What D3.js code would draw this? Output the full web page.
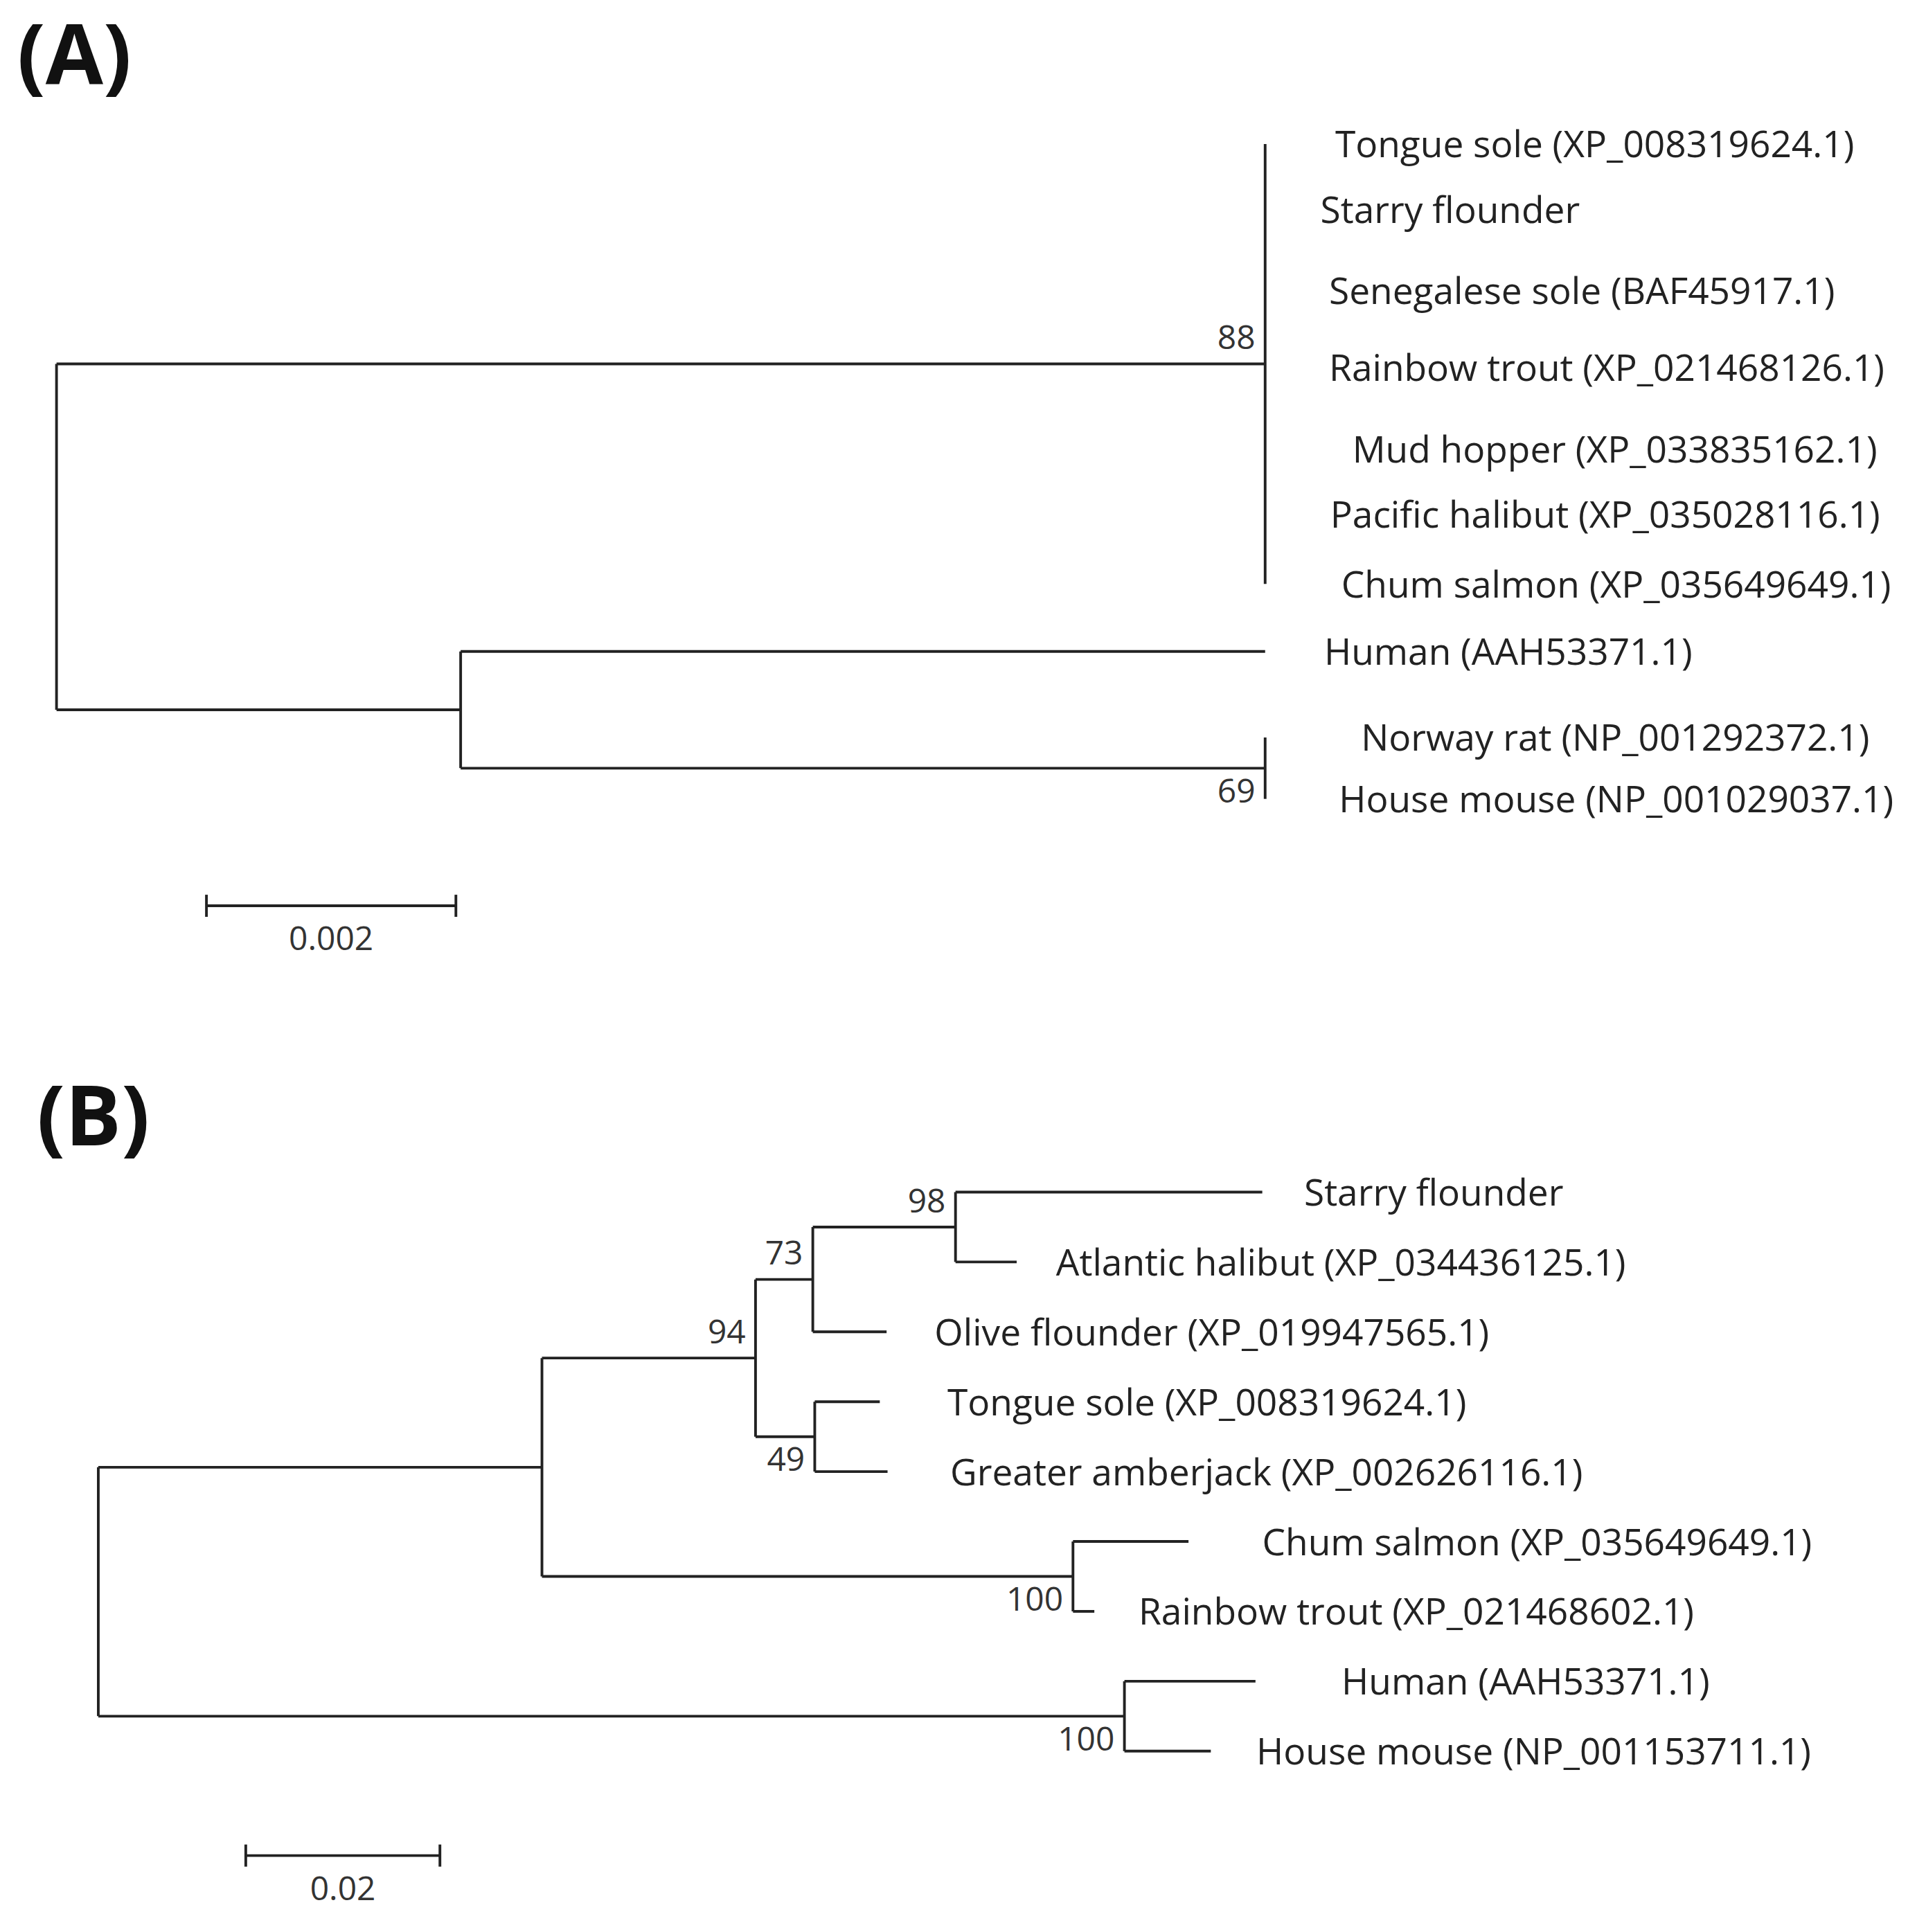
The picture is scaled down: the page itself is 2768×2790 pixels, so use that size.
<!DOCTYPE html>
<html>
<head>
<meta charset="utf-8">
<script src="https://cdn.jsdelivr.net/npm/d3@7"></script>
<style>
  body { margin: 0; background: #fff; }
  text { font-family: "Open Sans", sans-serif; }
</style>
</head>
<body>
<svg id="chart"></svg>
<script>
// tree A: branch lengths (substitutions/site), bootstrap, leaves
const treeA = {len: 0, children: [
  {len: 0.00969, boot: '88', bootPos: 'above', children: [
    {name: 'Tongue sole (XP_008319624.1)', len: 0},
    {name: 'Starry flounder', len: 0},
    {name: 'Senegalese sole (BAF45917.1)', len: 0},
    {name: 'Rainbow trout (XP_021468126.1)', len: 0},
    {name: 'Mud hopper (XP_033835162.1)', len: 0},
    {name: 'Pacific halibut (XP_035028116.1)', len: 0},
    {name: 'Chum salmon (XP_035649649.1)', len: 0}
  ]},
  {len: 0.00324, children: [
    {name: 'Human (AAH53371.1)', len: 0.00645},
    {len: 0.00645, boot: '69', bootPos: 'below', children: [
      {name: 'Norway rat (NP_001292372.1)', len: 0},
      {name: 'House mouse (NP_001029037.1)', len: 0}
    ]}
  ]}
]}
const labelGapA = [57, 45, 52, 52, 71, 53, 62, 48, 78, 60]

const treeB = {len: 0, children: [
  {len: 0.0457, children: [
    {len: 0.0220, boot: '94', bootPos: 'above', children: [
      {len: 0.0059, boot: '73', bootPos: 'above', children: [
        {len: 0.0147, boot: '98', bootPos: 'above', children: [
          {name: 'Starry flounder', len: 0.0316},
          {name: 'Atlantic halibut (XP_034436125.1)', len: 0.0063}
        ]},
        {name: 'Olive flounder (XP_019947565.1)', len: 0.0076}
      ]},
      {len: 0.0061, boot: '49', bootPos: 'below', children: [
        {name: 'Tongue sole (XP_008319624.1)', len: 0.0067},
        {name: 'Greater amberjack (XP_002626116.1)', len: 0.0075}
      ]}
    ]},
    {len: 0.0547, boot: '100', bootPos: 'below', children: [
      {name: 'Chum salmon (XP_035649649.1)', len: 0.0119},
      {name: 'Rainbow trout (XP_021468602.1)', len: 0.0022}
    ]}
  ]},
  {len: 0.1057, boot: '100', bootPos: 'below', children: [
    {name: 'Human (AAH53371.1)', len: 0.0135},
    {name: 'House mouse (NP_001153711.1)', len: 0.0089}
  ]}
]}
const labelGapB = [34, 32, 39, 55, 51, 60, 36, 70, 37]

const leafYA = [117, 170, 236, 299, 365, 418, 475, 530, 600, 650]

const panels = [
  {tag: '(A)', tagX: 14, tagY: 68, tree: treeA, gaps: labelGapA, x0: 46, pxPerUnit: 101500,
   fixedY: leafYA, scale: 0.002, scaleLabel: '0.002', scaleX: 168, scaleY: 737},
  {tag: '(B)', tagX: 30, tagY: 932, tree: treeB, gaps: labelGapB, x0: 80, pxPerUnit: 7900,
   leafY: [970, 1425], scale: 0.02, scaleLabel: '0.02', scaleX: 200, scaleY: 1510}
]

const W = 2768, H = 2790
const svg = d3.select('#chart').attr('width', W).attr('height', H)
  .attr('viewBox', '0 0 1560 1572')
const g = svg.append('g')

panels.forEach(p => {
  const root = d3.hierarchy(p.tree)
  const x = d3.scaleLinear().domain([0, 1]).range([p.x0, p.x0 + p.pxPerUnit])
  root.eachBefore(d => { d.dist = (d.parent ? d.parent.dist : 0) + d.data.len })
  const leaves = root.leaves()
  if (p.fixedY) {
    leaves.forEach((d, i) => { d.yy = p.fixedY[i] })
  } else {
    const y = d3.scaleLinear().domain([0, leaves.length - 1]).range(p.leafY)
    leaves.forEach((d, i) => { d.yy = y(i) })
  }
  root.eachAfter(d => {
    if (d.children) d.yy = d3.mean([d.children[0].yy, d.children[d.children.length - 1].yy])
  })

  const line = (x1, y1, x2, y2) => g.append('line')
    .attr('x1', x1).attr('y1', y1).attr('x2', x2).attr('y2', y2)
    .attr('stroke', '#222').attr('stroke-width', 2.2)

  root.descendants().forEach(d => {
    if (d.parent) line(x(d.parent.dist), d.yy, x(d.dist), d.yy)
    if (d.children) {
      const ys = d.children.map(c => c.yy)
      line(x(d.dist), d3.min(ys), x(d.dist), d3.max(ys))
      if (d.data.boot) {
        g.append('text').attr('x', x(d.dist) - 8)
          .attr('y', d.data.bootPos === 'above' ? d.yy - 12 : d.yy + 28)
          .attr('text-anchor', 'end').attr('font-size', 27)
          .attr('font-family', '"Liberation Sans Narrow", "DejaVu Sans Condensed", sans-serif')
          .attr('fill', '#333').text(d.data.boot)
      }
    }
  })
  leaves.forEach((d, i) => {
    g.append('text').attr('x', x(d.dist) + p.gaps[i]).attr('y', d.yy + 11)
      .attr('font-size', 30).attr('fill', '#222').text(d.data.name)
  })

  g.append('text').attr('x', p.tagX).attr('y', p.tagY).attr('font-size', 68)
    .attr('font-weight', 'bold').attr('fill', '#111').text(p.tag)

  // scale bar
  const sx = d3.scaleLinear().domain([0, p.scale]).range([p.scaleX, p.scaleX + p.scale * p.pxPerUnit])
  line(sx(0), p.scaleY, sx(p.scale), p.scaleY)
  line(sx(0), p.scaleY - 9, sx(0), p.scaleY + 9)
  line(sx(p.scale), p.scaleY - 9, sx(p.scale), p.scaleY + 9)
  g.append('text').attr('x', sx(p.scale / 2)).attr('y', p.scaleY + 36)
    .attr('text-anchor', 'middle').attr('font-size', 27)
    .attr('font-family', '"Liberation Sans Narrow", "DejaVu Sans Condensed", sans-serif')
    .attr('fill', '#333').text(p.scaleLabel)
})
</script>
</body>
</html>
